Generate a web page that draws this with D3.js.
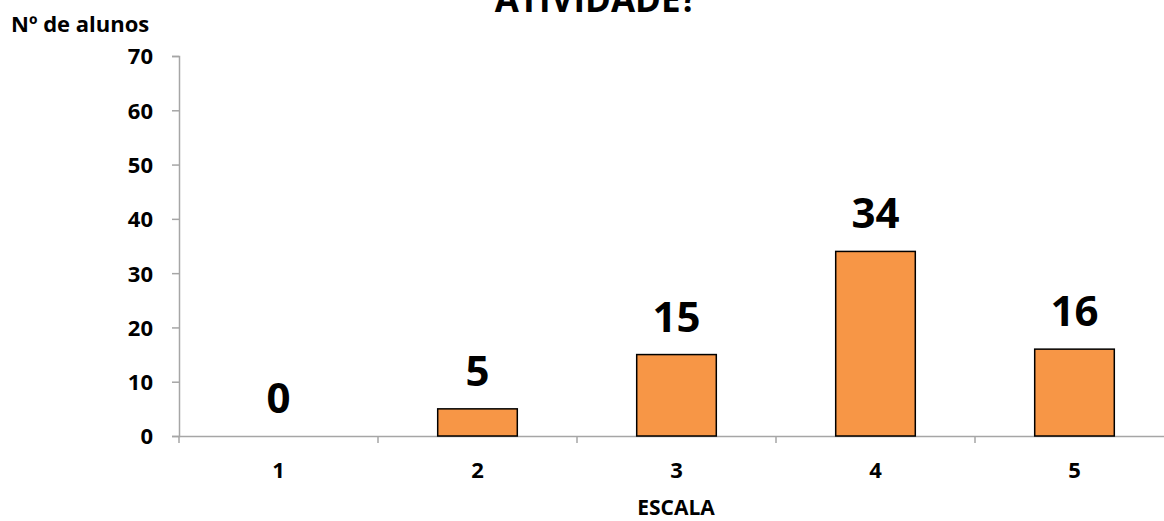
<!DOCTYPE html>
<html><head><meta charset="utf-8">
<script src="https://cdn.jsdelivr.net/npm/d3@7"></script>
<style>body{margin:0;background:#fff;}svg{display:block;font-family:"Open Sans",sans-serif;}</style>
</head><body>
<script>
const categories = ["1","2","3","4","5"];
const values = [0,5,15,34,16];
const yTicks = [0,10,20,30,40,50,60,70];
const title = "ATIVIDADE?";
const yLabel = "Nº de alunos";
const xLabel = "ESCALA";

const W = 1164, H = 521;
const svg = d3.select("body").append("svg").attr("width", W).attr("height", H);
const mLeft = 179, mRight = 1174, mTop = 56, mBottom = 436;
const x = d3.scaleBand().domain(categories).range([mLeft, mRight]).padding(0);
const y = d3.scaleLinear().domain([0,70]).range([mBottom, mTop]);
const axisColor = "#a6a6a6";
const ff = "'Open Sans',sans-serif";

// y axis
const ya = svg.append("g").attr("transform", `translate(${mLeft},0)`)
  .call(d3.axisLeft(y).tickValues(yTicks).tickSize(7).tickPadding(19));
ya.select(".domain").attr("stroke", axisColor).attr("stroke-width", 1.5);
ya.selectAll(".tick line").attr("stroke", axisColor).attr("stroke-width", 1.5);
ya.selectAll(".tick text").attr("font-size", 22).attr("font-weight", 700).attr("fill", "#000")
  .attr("font-family", ff).attr("dy", "0.36em");

// x axis
const xa = svg.append("g").attr("transform", `translate(0,${mBottom})`)
  .call(d3.axisBottom(x).tickSize(0).tickPadding(0));
xa.select(".domain").attr("stroke", axisColor).attr("stroke-width", 1.5);
xa.selectAll(".tick text").attr("font-size", 22).attr("font-weight", 700).attr("fill", "#000")
  .attr("font-family", ff).attr("dy", null).attr("y", 42);
// boundary tick marks between categories
const bounds = categories.map(c => x(c)).concat([mRight]);
svg.append("g").selectAll("line").data(bounds).join("line")
  .attr("x1", d => d).attr("x2", d => d).attr("y1", mBottom).attr("y2", mBottom + 7)
  .attr("stroke", axisColor).attr("stroke-width", 1.5);

// bars
const bw = x.bandwidth() * 0.4;
svg.append("g").selectAll("rect").data(values).join("rect")
  .attr("x", (d,i) => x(categories[i]) + x.bandwidth()/2 - bw/2)
  .attr("y", d => y(d))
  .attr("width", bw)
  .attr("height", d => y(0) - y(d))
  .attr("fill", "#F79646")
  .attr("stroke", d => d > 0 ? "#000" : "none")
  .attr("stroke-width", 1.5);

// value labels
svg.append("g").selectAll("text").data(values).join("text")
  .attr("x", (d,i) => x(categories[i]) + x.bandwidth()/2)
  .attr("y", d => y(d) - 23)
  .attr("text-anchor", "middle")
  .attr("font-size", 42).attr("font-weight", 700).attr("fill", "#000")
  .text(d => d);

// title (cut off at the top, as in the reference)
svg.append("text").attr("x", 596).attr("y", 12).attr("text-anchor", "middle")
  .attr("font-size", 35).attr("font-weight", 700).text(title);

// y label
svg.append("text").attr("x", 11).attr("y", 32).attr("font-size", 22).attr("font-weight", 700).text(yLabel);

// x label
svg.append("text").attr("x", 676).attr("y", 515).attr("text-anchor", "middle")
  .attr("font-size", 21).attr("font-weight", 700).text(xLabel);
</script>
</body></html>
